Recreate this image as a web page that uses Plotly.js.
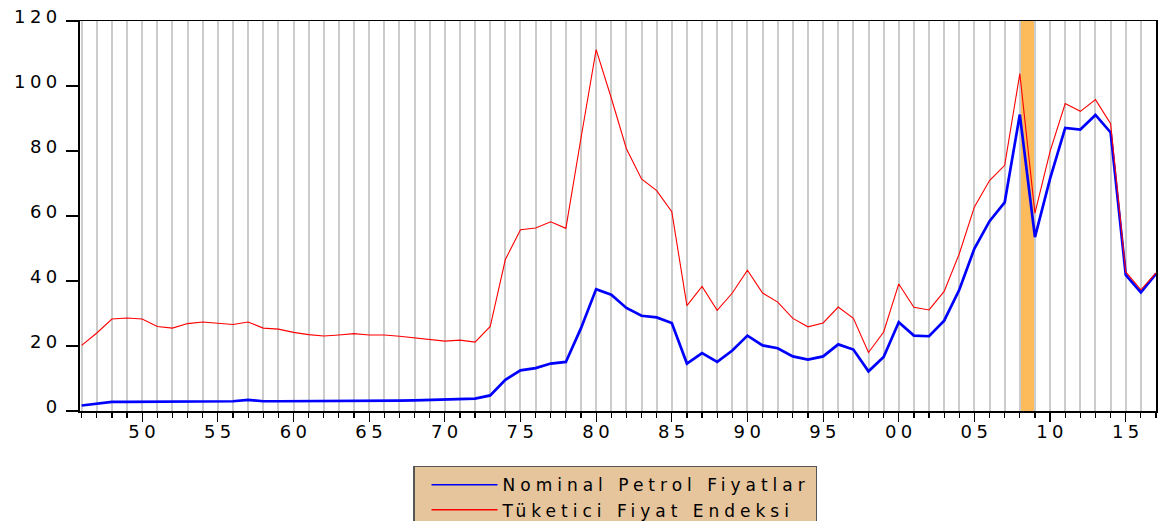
<!DOCTYPE html>
<html>
<head>
<meta charset="utf-8">
<script src="https://cdn.plot.ly/plotly-3.0.1.min.js"></script>
<style>
  html, body { margin: 0; padding: 0; background: #ffffff; }
  #chart { width: 1160px; height: 521px; }
  svg text { letter-spacing: 5px; }
  g.xtick text, g.ytick text { letter-spacing: 4.4px; }
  .gridlayer path { shape-rendering: crispEdges; }
  .legend path.js-line { stroke-width: 1.5px !important; }
</style>
</head>
<body>
<div id="chart"></div>
<script>
// Years 1946..2017
var years = [];
for (var yr = 1946; yr <= 2017; yr++) years.push(yr);

var nominalPetrol = [
  1.7, 2.3, 2.8, 2.8, 2.8, 2.8, 2.8, 3.0, 3.0, 3.0,
  3.0, 3.4, 3.0, 3.0, 3.0, 3.0, 3.0, 3.0, 3.1, 3.2,
  3.2, 3.2, 3.3, 3.4, 3.5, 3.8, 3.8, 4.8, 9.6, 12.5,
  13.2, 14.6, 15.1, 25.5, 37.5, 35.8, 31.7, 29.3, 28.8, 27.1,
  14.6, 17.8, 15.1, 18.6, 23.2, 20.2, 19.3, 16.8, 15.8, 16.8,
  20.5, 18.9, 12.2, 16.6, 27.3, 23.2, 23.0, 27.8, 37.3, 50.0,
  58.4, 64.2, 91.2, 53.5, 71.5, 87.1, 86.6, 91.1, 85.7, 41.9,
  36.5, 42.2
];

var tuketiciFiyat = [
  20.2, 24.0, 28.3, 28.6, 28.3, 26.0, 25.5, 26.9, 27.4, 26.9,
  26.6, 27.4, 25.5, 25.2, 24.2, 23.5, 23.1, 23.4, 23.8, 23.4,
  23.4, 23.0, 22.5, 22.2, 21.5, 21.8, 21.2, 26.0, 46.6, 55.8,
  56.3, 58.2, 56.2, 84.0, 111.2, 96.3, 80.7, 71.4, 67.8, 61.3,
  32.4, 38.3, 31.0, 36.3, 43.3, 36.3, 33.5, 28.5, 25.9, 27.1,
  32.0, 28.5, 18.0, 24.3, 39.1, 31.9, 31.1, 36.8, 48.4, 62.8,
  70.9, 75.6, 103.8, 60.9, 79.9, 94.6, 92.2, 95.8, 88.4, 42.8,
  37.3, 42.5
];

var xTickVals = [1950, 1955, 1960, 1965, 1970, 1975, 1980, 1985, 1990, 1995, 2000, 2005, 2010, 2015];
var xTickText = ["50", "55", "60", "65", "70", "75", "80", "85", "90", "95", "00", "05", "10", "15"];
var yTickVals = [0, 20, 40, 60, 80, 100, 120];

var seriesNames = ["Nominal Petrol Fiyatlar", "Tüketici Fiyat Endeksi"];
var bandStart = 2008;
var bandEnd = 2009;

var font = "DejaVu Sans, Arial, sans-serif";

var traces = [
  {
    x: years, y: nominalPetrol, name: seriesNames[0],
    type: "scatter", mode: "lines",
    line: { color: "#0000FF", width: 2.7 }
  },
  {
    x: years, y: tuketiciFiyat, name: seriesNames[1],
    type: "scatter", mode: "lines",
    line: { color: "#FF0000", width: 1.1 }
  }
];

var layout = {
  width: 1160, height: 521,
  margin: { l: 80, r: 4, t: 21, b: 110, pad: 0, autoexpand: false },
  paper_bgcolor: "#ffffff",
  plot_bgcolor: "#ffffff",
  font: { family: font, size: 18, color: "#000000" },
  showlegend: true,
  legend: {
    x: 0.3095, y: -0.1403, xanchor: "left", yanchor: "top",
    bgcolor: "#E6C49C", bordercolor: "#555555", borderwidth: 1.5,
    font: { family: font, size: 17, color: "#000000" },
    itemwidth: 66, indentation: 12, tracegroupgap: 0
  },
  xaxis: {
    range: [1945.89, 2017.0],
    tickmode: "array", tickvals: xTickVals, ticktext: xTickText,
    ticks: "outside", ticklen: 9, tickwidth: 1.2, tickcolor: "#000000",
    showgrid: false,
    zeroline: false,
    showline: true, linecolor: "#000000", linewidth: 1.5, mirror: true,
    tickfont: { family: font, size: 18, color: "#000000" },
    ticklabelshift: 2,
    ticklabelstandoff: -5,
    minor: {
      tickmode: "linear", tick0: 1946, dtick: 1,
      ticks: "outside", ticklen: 5, tickwidth: 1.2, tickcolor: "#000000",
      showgrid: true, gridcolor: "#CCCCCC", gridwidth: 2
    },
    fixedrange: true
  },
  yaxis: {
    range: [0, 120],
    tickmode: "array", tickvals: yTickVals,
    ticks: "outside", ticklen: 12, tickwidth: 1.2, tickcolor: "#000000",
    showgrid: false, zeroline: false,
    showline: true, linecolor: "#000000", linewidth: 1.8, mirror: true,
    tickfont: { family: font, size: 18, color: "#000000" },
    ticklabelstandoff: 1,
    ticklabelshift: -4,
    fixedrange: true
  },
  shapes: [
    {
      type: "rect", xref: "x", yref: "paper",
      x0: bandStart, x1: bandEnd, y0: 0, y1: 1,
      fillcolor: "#FDBB5B", line: { width: 0 }, layer: "between"
    }
  ]
};

Plotly.newPlot("chart", traces, layout, { displayModeBar: false, staticPlot: true });
</script>
</body>
</html>
